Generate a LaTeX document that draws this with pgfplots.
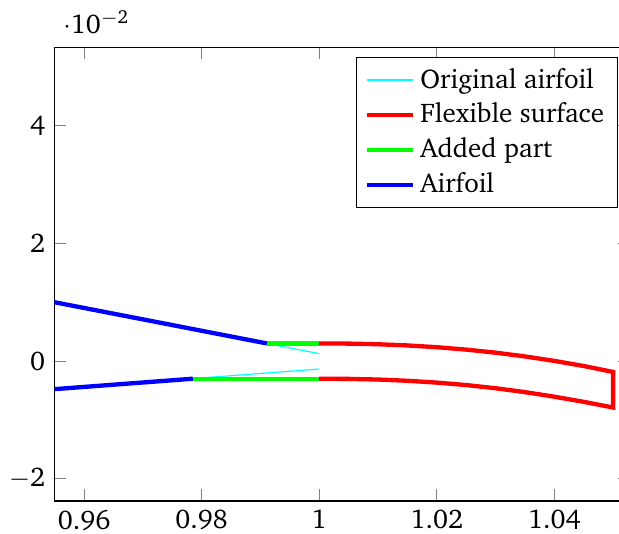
\documentclass[border=0pt]{standalone}
\usepackage[T1]{fontenc}
\usepackage{charter}
\usepackage{pgfplots}
\pgfplotsset{compat=1.18}
\definecolor{origcyan}{RGB}{0,255,255}
% Charter digits in math mode, so tick labels match the text
\DeclareSymbolFont{chdigits}{T1}{bch}{m}{n}
\DeclareMathSymbol{0}{\mathalpha}{chdigits}{`0}
\DeclareMathSymbol{1}{\mathalpha}{chdigits}{`1}
\DeclareMathSymbol{2}{\mathalpha}{chdigits}{`2}
\DeclareMathSymbol{3}{\mathalpha}{chdigits}{`3}
\DeclareMathSymbol{4}{\mathalpha}{chdigits}{`4}
\DeclareMathSymbol{5}{\mathalpha}{chdigits}{`5}
\DeclareMathSymbol{6}{\mathalpha}{chdigits}{`6}
\DeclareMathSymbol{7}{\mathalpha}{chdigits}{`7}
\DeclareMathSymbol{8}{\mathalpha}{chdigits}{`8}
\DeclareMathSymbol{9}{\mathalpha}{chdigits}{`9}
\DeclareMathSymbol{.}{\mathord}{chdigits}{`.}
\begin{document}
\begin{tikzpicture}
% page frame: margins round the axis, right edge just inside the right spine
\useasboundingbox (-20.26pt,-12.2pt) rectangle (209pt,185.56pt);
\begin{axis}[
  at={(0,0)}, anchor=south west,
  scale only axis,
  width=212.9pt, height=167.9pt,
  xmin=0.955, xmax=1.0528,
  ymin=-0.0238, ymax=0.0533,
  xtick={0.96,0.98,1,1.02,1.04},
  ytick={-0.02,0,0.02,0.04},
  major tick length=0.15cm,
  every tick/.style={gray},
  legend cell align=left,
  legend style={at={(0.98,0.98)}, anchor=north east, draw=black},
  line join=miter,
]
% original airfoil contour (trailing edge region)
\addplot[origcyan, line width=0.45pt] coordinates {
  (1.000,0.00127) (0.950,0.01097) (0.950,-0.00515) (1.000,-0.00135)
};
\addlegendentry{Original airfoil}
% bent flexible trailing surface
\addplot[red, line width=1.6pt] coordinates {
  (1.000,0.00300) (1.005,0.00297) (1.010,0.00286) (1.015,0.00266)
  (1.020,0.00236) (1.025,0.00195) (1.030,0.00143) (1.035,0.00079)
  (1.040,0.00003) (1.045,-0.00084) (1.050,-0.00185)
  (1.050,-0.00790) (1.045,-0.00693) (1.040,-0.00606) (1.035,-0.00528)
  (1.030,-0.00462) (1.025,-0.00408) (1.020,-0.00366) (1.015,-0.00335)
  (1.010,-0.00314) (1.005,-0.00303) (1.000,-0.00300)
};
\addlegendentry{Flexible surface}
% straight extension pieces
\addplot[green, line width=1.6pt] coordinates {(0.9911,0.003) (1.000,0.003)};
\addlegendentry{Added part}
\addplot[green, line width=1.6pt, forget plot] coordinates {(0.9785,-0.003) (1.000,-0.003)};
% remaining airfoil
\addplot[blue, line width=1.6pt] coordinates {
  (0.9911,0.003) (0.950,0.01097) (0.950,-0.00515) (0.9785,-0.003)
};
\addlegendentry{Airfoil}
\end{axis}
\end{tikzpicture}
\end{document}
